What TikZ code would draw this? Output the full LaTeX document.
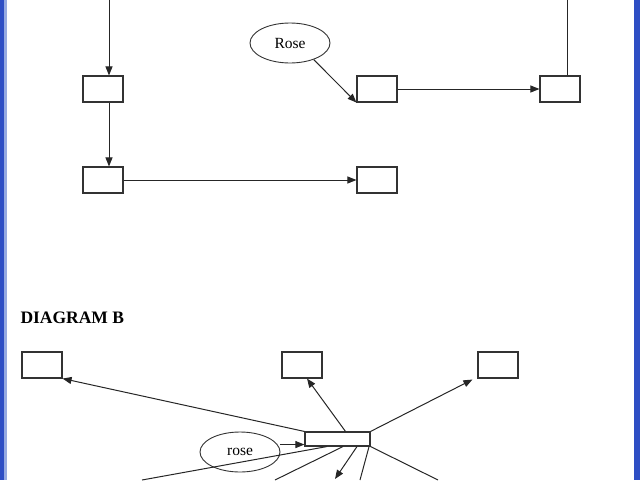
\documentclass[tikz,border=0pt]{standalone}
\usepackage{fontspec}
\setmainfont{Liberation Serif}
\usepackage{xcolor}
\usepackage{tikz}
\usetikzlibrary{arrows.meta, positioning, calc, shapes.geometric}

\definecolor{winblue}{RGB}{46,78,196}
\definecolor{winlight}{RGB}{150,170,225}

\begin{document}
\begin{tikzpicture}[x=1pt, y=-1pt,
    bx/.style={draw=black!80, line width=1.1pt, minimum width=40pt, minimum height=26pt, inner sep=0pt},
    bar/.style={draw=black!80, line width=1.1pt, minimum width=65pt, minimum height=14pt, inner sep=0pt},
    oval/.style={draw=black!80, line width=0.9pt, ellipse, minimum width=80pt, minimum height=40pt,
                 inner sep=0pt, font=\fontsize{15.5}{18}\selectfont},
    ln/.style={black!85, line width=1pt},
    arr/.style={-{Triangle[length=9pt, width=7pt]}, black!85, line width=1pt}]
  \useasboundingbox (0,0) rectangle (640,480);
  \clip (0,0) rectangle (640,480);
  % window frame
  \fill[winblue] (0,0) rectangle (4,480);
  \fill[winlight] (4,0) rectangle (6.5,480);
  \fill[winblue] (634,0) rectangle (640,480);

  % upper diagram
  \node[bx] (a1) at (103,89) {};
  \node[bx] (a2) at (103,180) {};
  \node[bx] (a3) at (377,180) {};
  \node[bx] (a4) at (377,89) {};
  \node[bx] (a5) at (560,89) {};
  \node[oval] (rose) at (290,43) {Rose};
  \coordinate (topL) at (109,0);
  \coordinate (topR) at (567,0);
  \draw[arr] (topL) -- (topL |- a1.north);
  \draw[arr] (a1.south -| topL) -- (a2.north -| topL);
  \draw[arr] (a2) -- (a3);
  \draw[arr] (rose.-35) -- (a4.south west);
  \draw[arr] (a4) -- (a5);
  \draw[ln] (a5.north -| topR) -- (topR);

  % lower diagram
  \node[anchor=base west, font=\fontsize{17.5}{20}\selectfont\bfseries] (title) at (17,323) {DIAGRAM B};
  \node[bx] (b1) at (42,365) {};
  \node[bx] (b2) at (302,365) {};
  \node[bx] (b3) at (498,365) {};
  \node[bar] (c) at (337.5,439) {};
  \node[oval] (r2) at (240,452) {rose};
  \coordinate (rin) at ($(c.south west)+(0,-2)$);
  \draw[arr] (c.north west) -- (b1.south east);
  \draw[arr] ($(c.north)+(8,0)$) -- ($(b2.south)+(5,0)$);
  \draw[arr] (c.north east) -- ($(b3.south west)+(-5,1)$);
  \draw[arr] (r2.east |- rin) -- (rin);
  \coordinate (d1) at (142,480);
  \coordinate (d2) at (275,480);
  \coordinate (d3) at (335,479);
  \coordinate (d4) at (360,480);
  \coordinate (d5) at (438,480);
  \draw[ln] ($(c.south)+(-10.5,0)$) -- (d1);
  \draw[ln] ($(c.south)+(5.5,0)$) -- (d2);
  \draw[arr] ($(c.south)+(19.5,0)$) -- (d3);
  \draw[ln] ($(c.south east)+(-1.5,0)$) -- (d4);
  \draw[ln] (c.south east) -- (d5);
\end{tikzpicture}
\end{document}
